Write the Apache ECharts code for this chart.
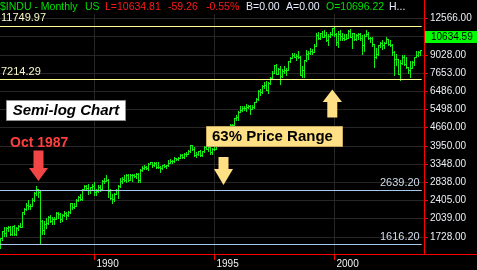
<!DOCTYPE html>
<html>
<head>
<meta charset="utf-8">
<script src="https://cdn.jsdelivr.net/npm/echarts@6/dist/echarts.min.js"></script>
<style>
html,body{margin:0;padding:0;background:#000;}
#c{width:477px;height:270px;}
</style>
</head>
<body>
<div id="c"></div>
<script>
// ---- data: $INDU monthly OHLC, Jan 1986 .. Aug 2003 ----
var startYear = 1986;
var opens = [
 1547,1571,1709,1819,1784,1877,1893,1775,1898,1768,1878,1914,
 1896,2158,2224,2305,2286,2292,2419,2572,2663,2596,1994,1834,
 1939,1958,2072,1988,2032,2031,2142,2129,2032,2113,2149,2115,
 2169,2342,2258,2294,2419,2480,2440,2661,2737,2693,2645,2706,
 2753,2591,2627,2707,2657,2877,2881,2905,2614,2453,2442,2560,
 2634,2736,2882,2914,2888,3028,2907,3025,3044,3017,3069,2895,
 3169,3224,3267,3236,3359,3397,3319,3394,3257,3272,3226,3305,
 3301,3310,3370,3435,3428,3527,3516,3540,3651,3555,3681,3684,
 3754,3978,3832,3636,3682,3758,3625,3765,3913,3843,3908,3739,
 3834,3844,4011,4158,4321,4465,4556,4709,4611,4789,4756,5075,
 5117,5395,5486,5588,5569,5643,5655,5529,5616,5882,6029,6522,
 6448,6813,6878,6584,7009,7331,7673,8223,7622,7945,7442,7823,
 7908,7907,8546,8800,9063,8900,8952,8883,7539,7843,8592,9117,
 9181,9359,9307,9786,10789,10560,10971,10655,10829,10337,10730,10878,
 11497,10941,10128,10922,10734,10522,10448,10522,11215,10651,10971,10415,
 10787,10887,10495,9879,10735,10912,10502,10523,9950,8848,9075,9852,
 10022,9920,10106,10404,9946,9925,9243,8737,8664,7592,8397,8896,
 8342,8054,7891,7992,8480,8850,8985,9234
];
var highs = [
 1570,1713,1822,1882,1886,1900,1910,1905,1920,1885,1930,1965,
 2175,2250,2345,2418,2335,2451,2587,2747,2680,2639,2019,2000,
 2058,2080,2110,2070,2065,2160,2163,2150,2128,2185,2164,2185,
 2350,2355,2340,2430,2505,2540,2670,2760,2775,2800,2720,2790,
 2834,2680,2760,2780,2900,2950,3025,2920,2670,2560,2580,2660,
 2760,2960,2980,3040,3050,3060,3050,3070,3060,3100,3090,3200,
 3300,3310,3300,3380,3420,3420,3420,3400,3400,3300,3320,3350,
 3330,3460,3490,3480,3560,3540,3580,3660,3660,3700,3720,3800,
 3990,3990,3910,3720,3780,3810,3780,3930,3960,3940,3930,3880,
 3940,4030,4170,4330,4480,4600,4730,4720,4810,4820,5110,5220,
 5420,5680,5700,5690,5800,5750,5740,5750,5910,6100,6560,6600,
 6880,7080,7110,7030,7400,7800,8250,8300,8020,8200,7920,8150,
 7990,8570,8850,9230,9220,9080,9370,8950,8160,8650,9400,9390,
 9650,9560,10010,11000,11110,11070,11250,11330,11100,10900,11100,11570,
 11750,11060,11200,11350,11050,10900,10900,11330,11400,10990,11000,10900,
 11020,11000,10860,10900,11350,11100,10650,10600,10000,9600,9900,10180,
 10300,10150,10670,10450,10360,9970,9380,9080,8700,8610,9050,9060,
 8870,8110,8530,8520,8900,9340,9340,9440
];
var lows = [
 1502,1565,1686,1739,1746,1819,1763,1758,1755,1761,1844,1889,
 1890,2131,2209,2215,2215,2278,2395,2532,2480,1616,1776,1766,
 1879,1940,1978,1950,1941,2025,2055,1979,2002,2090,2038,2087,
 2145,2234,2240,2280,2385,2420,2420,2640,2650,2540,2580,2680,
 2520,2535,2600,2615,2640,2830,2860,2480,2430,2345,2400,2540,
 2450,2710,2830,2860,2850,2880,2900,2860,2970,2950,2850,2840,
 3150,3200,3200,3170,3340,3270,3280,3220,3240,3120,3200,3250,
 3240,3300,3370,3370,3410,3460,3470,3530,3530,3550,3600,3670,
 3740,3800,3600,3560,3620,3610,3610,3730,3830,3770,3670,3680,
 3820,3830,3980,4140,4300,4420,4530,4560,4600,4710,4740,5010,
 5000,5350,5410,5460,5440,5590,5300,5500,5560,5870,6010,6250,
 6400,6690,6580,6360,6950,7240,7650,7600,7580,6940,7380,7650,
 7530,7880,8500,8800,8850,8620,8800,7500,7400,7400,8580,8700,
 9080,9100,9270,9770,10450,10400,10650,10600,10230,9880,10580,10850,
 10700,9860,9730,10300,10300,10350,10400,10500,10600,9650,10300,10300,
 10430,10350,9100,9380,10680,10400,10170,9830,8060,8800,9000,9710,
 9530,9620,10060,9900,9760,9060,7530,8260,7580,7200,8310,8240,
 7990,7670,7420,7990,8260,8840,8980,9020
];
var closes = [
 1571,1709,1819,1784,1877,1893,1775,1898,1768,1878,1914,1896,
 2158,2224,2305,2286,2292,2419,2572,2663,2596,1994,1834,1939,
 1958,2072,1988,2032,2031,2142,2129,2032,2113,2149,2115,2169,
 2342,2258,2294,2419,2480,2440,2661,2737,2693,2645,2706,2753,
 2591,2627,2707,2657,2877,2881,2905,2614,2453,2442,2560,2634,
 2736,2882,2914,2888,3028,2907,3025,3044,3017,3069,2895,3169,
 3224,3267,3236,3359,3397,3319,3394,3257,3272,3226,3305,3301,
 3310,3370,3435,3428,3527,3516,3540,3651,3555,3681,3684,3754,
 3978,3832,3636,3682,3758,3625,3765,3913,3843,3908,3739,3834,
 3844,4011,4158,4321,4465,4556,4709,4611,4789,4756,5075,5117,
 5395,5486,5588,5569,5643,5655,5529,5616,5882,6029,6522,6448,
 6813,6878,6584,7009,7331,7673,8223,7622,7945,7442,7823,7908,
 7907,8546,8800,9063,8900,8952,8883,7539,7843,8592,9117,9181,
 9359,9307,9786,10789,10560,10971,10655,10829,10337,10730,10878,11497,
 10941,10128,10922,10734,10522,10448,10522,11215,10651,10971,10415,10787,
 10887,10495,9879,10735,10912,10502,10523,9950,8848,9075,9852,10022,
 9920,10106,10404,9946,9925,9243,8737,8664,7592,8397,8896,8342,
 8054,7891,7992,8480,8850,8985,9234,9415
];
var yTickValues = [1728, 2039, 2405, 2838, 3348, 3950, 4660, 5498, 6486, 7653, 9028, 10651, 12566];
var yLabelValues = [1728, 2039, 2405, 2838, 3348, 3950, 4660, 5498, 6486, 7653, 9028, 12566];
var xTickYears = [1990, 1995, 2000];
var upperLevels = [11749.97, 7214.29];   // yellow range lines
var lowerLevels = [2639.20, 1616.20];    // blue lines
var lastPrice = 10634.59;
var headerParts = [
  {text: '$INDU - Monthly', x: 0,   color: '#00e000'},
  {text: 'US',              x: 85,  color: '#00e000'},
  {text: 'L=10634.81',      x: 105, color: '#ff1a1a'},
  {text: '-59.26',          x: 168, color: '#ff1a1a'},
  {text: '-0.55%',          x: 206, color: '#ff1a1a'},
  {text: 'B=0.00',          x: 246, color: '#e8eeff'},
  {text: 'A=0.00',          x: 286, color: '#e8eeff'},
  {text: 'O=10696.22',      x: 326, color: '#00e000'},
  {text: 'H...',            x: 389, color: '#e8eeff'}
];

// ---- build ----
var FONT = 'Liberation Sans, Arial, sans-serif';
var BAR = '#14f014';
var xMin = 1986.0625, xMax = 2003.7292, xLineEnd = 2003.633;
var bars = [];
for (var i = 0; i < closes.length; i++) {
  bars.push([startYear + i / 12, opens[i], highs[i], lows[i], closes[i]]);
}
function levelLine(v, color, labelColor, pos, dist) {
  return [
    {coord: [xMin, v], lineStyle: {color: color, width: 1, type: 'solid'},
     label: {show: true, position: pos, formatter: v.toFixed(2), color: labelColor,
             fontSize: 11, fontFamily: FONT, distance: dist}},
    {coord: [xLineEnd, v]}
  ];
}
var mlData = [];
upperLevels.forEach(function (v) { mlData.push(levelLine(v, '#ffff90', '#fafac8', 'insideStartTop', [1, 2])); });
lowerLevels.forEach(function (v) { mlData.push(levelLine(v, '#a8c8f0', '#d4dcea', 'insideEndTop', [2, 2])); });

var graphics = [];
headerParts.forEach(function (p) {
  graphics.push({type: 'text', z: 100, style: {text: p.text, x: p.x, y: 7, fill: p.color,
    font: '10.5px ' + FONT, textVerticalAlign: 'middle'}});
});
// axis line extensions
graphics.push({type: 'line', z: 100, shape: {x1: 424.5, y1: 0, x2: 424.5, y2: 14}, style: {stroke: '#ff0000', lineWidth: 1}});
graphics.push({type: 'line', z: 100, shape: {x1: 424, y1: 254.5, x2: 477, y2: 254.5}, style: {stroke: '#ff0000', lineWidth: 1}});
// last price box
graphics.push({type: 'rect', z: 100, shape: {x: 425, y: 31, width: 52, height: 12}, style: {fill: '#00ff00'}});
graphics.push({type: 'text', z: 101, style: {text: lastPrice.toFixed(2), x: 431, y: 37.5, fill: '#000',
  font: '10px ' + FONT, textVerticalAlign: 'middle'}});
// Semi-log box
graphics.push({type: 'rect', z: 100, shape: {x: 6.5, y: 100.5, width: 119, height: 20}, style: {fill: '#ffffff', stroke: '#909090', lineWidth: 1}});
graphics.push({type: 'text', z: 101, style: {text: 'Semi-log Chart', x: 66, y: 111, fill: '#000',
  font: 'italic bold 15px ' + FONT, textAlign: 'center', textVerticalAlign: 'middle'}});
// Oct 1987
graphics.push({type: 'text', z: 101, style: {text: 'Oct 1987', x: 10, y: 143.5, fill: '#ff4040',
  font: 'bold 14px ' + FONT, textVerticalAlign: 'middle'}});
graphics.push({type: 'polygon', z: 100, shape: {points: [[33.5,150.5],[43.5,150.5],[43.5,168],[48,168],[38.5,181],[29,168],[33.5,168]]},
  style: {fill: '#f24646'}});
// 63% Price Range
graphics.push({type: 'rect', z: 100, shape: {x: 206.5, y: 126.5, width: 136, height: 20}, style: {fill: '#ffe084', stroke: '#c8a860', lineWidth: 1}});
graphics.push({type: 'text', z: 101, style: {text: '63% Price Range', x: 212, y: 137, fill: '#000',
  font: 'bold 15px ' + FONT, textVerticalAlign: 'middle'}});
graphics.push({type: 'polygon', z: 100, shape: {points: [[218.5,157],[228.5,157],[228.5,169],[233,169],[223.5,185],[214,169],[218.5,169]]},
  style: {fill: '#ffe084'}});
graphics.push({type: 'polygon', z: 100, shape: {points: [[332.3,89.5],[342,102],[337.3,102],[337.3,117.5],[327.3,117.5],[327.3,102],[322.7,102]]},
  style: {fill: '#ffe084'}});

var chart = echarts.init(document.getElementById('c'), null, {renderer: 'canvas'});
chart.setOption({
  backgroundColor: '#000000',
  animation: false,
  grid: {left: 0, right: 53, top: 14, bottom: 16},
  xAxis: {
    type: 'value', min: xMin, max: xMax,
    axisLine: {show: true, lineStyle: {color: '#ff0000', width: 1}},
    axisTick: {show: true, length: 6, lineStyle: {color: '#ff0000'}, customValues: xTickYears},
    axisLabel: {show: true, customValues: xTickYears, color: '#f2f2f2', fontSize: 10, fontFamily: FONT,
      align: 'left', margin: 5, padding: [0, 0, 0, 2], formatter: function (v) { return String(Math.round(v)); }},
    splitLine: {show: true, lineStyle: {color: '#262626', width: 1}}
  },
  yAxis: {
    type: 'log', logBase: 10, min: 1478, max: 13098, position: 'right',
    axisLine: {show: true, lineStyle: {color: '#ff0000', width: 1}},
    axisTick: {show: true, length: 4, lineStyle: {color: '#ff0000'}, customValues: yTickValues},
    axisLabel: {show: true, customValues: yLabelValues, color: '#eceff4', fontSize: 10, fontFamily: FONT, margin: 6,
      formatter: function (v) { return Number(v).toFixed(2); }},
    splitLine: {show: true, lineStyle: {color: '#262626', width: 1}}
  },
  series: [{
    type: 'custom',
    clip: true,
    data: bars,
    dimensions: ['t', 'open', 'high', 'low', 'close'],
    encode: {x: 0, y: [1, 2, 3, 4]},
    renderItem: function (params, api) {
      var t = api.value(0);
      var o = api.coord([t, api.value(1)]);
      var h = api.coord([t, api.value(2)]);
      var l = api.coord([t, api.value(3)]);
      var c = api.coord([t, api.value(4)]);
      var cx = Math.floor(o[0]);
      var yh = Math.round(h[1]), yl = Math.round(l[1]);
      var st = {fill: BAR};
      return {type: 'group', children: [
        {type: 'rect', shape: {x: cx, y: yh, width: 1, height: Math.max(1, yl - yh + 1)}, style: st},
        {type: 'rect', shape: {x: cx - 1, y: Math.round(o[1]), width: 1, height: 1}, style: st},
        {type: 'rect', shape: {x: cx + 1, y: Math.round(c[1]), width: 1, height: 1}, style: st}
      ]};
    },
    markLine: {symbol: 'none', silent: true, animation: false, data: mlData}
  }],
  graphic: graphics
});
</script>
</body>
</html>
